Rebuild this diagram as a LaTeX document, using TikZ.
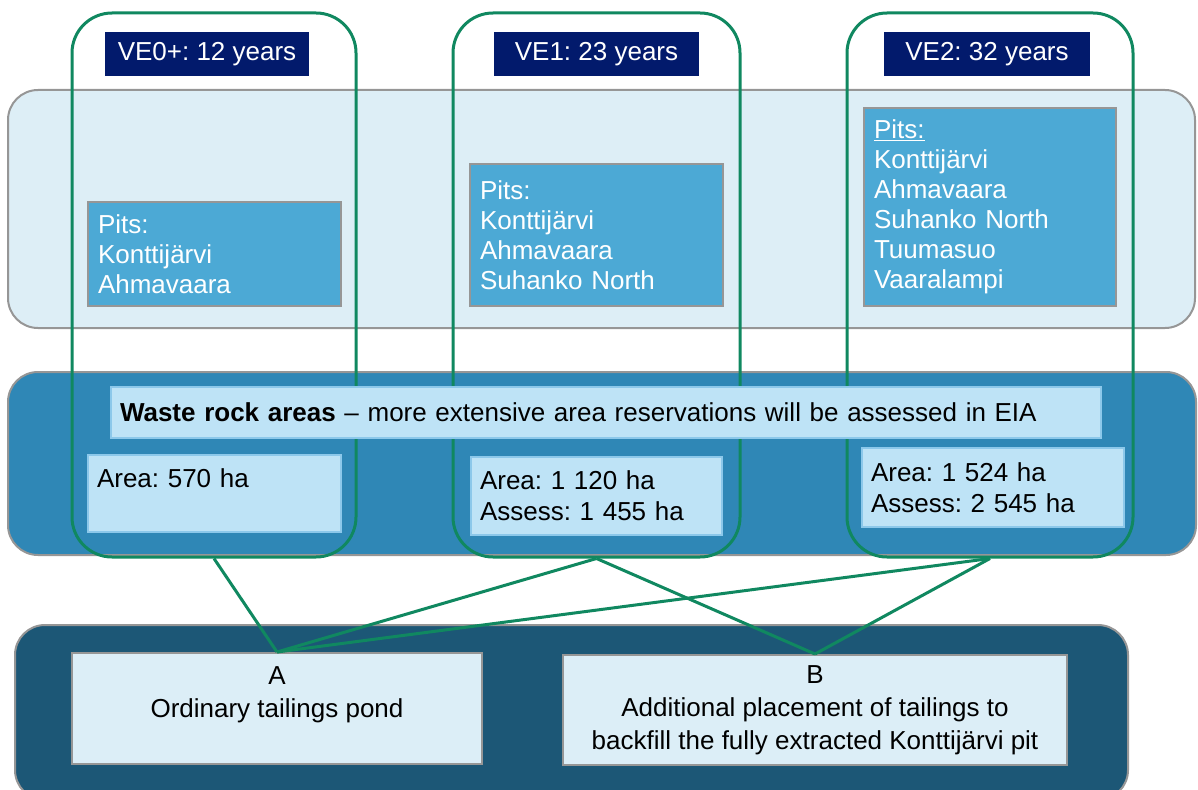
\documentclass[tikz,border=0pt]{standalone}
\usepackage{fontspec}
\setmainfont{Liberation Sans}
\usetikzlibrary{positioning}
\definecolor{framegreen}{RGB}{16, 136, 96}
\definecolor{navyblue}{RGB}{2, 26, 108}
\definecolor{pitblue}{RGB}{76, 169, 213}
\definecolor{pitbandfill}{RGB}{221, 238, 246}
\definecolor{wastebandfill}{RGB}{47, 135, 182}
\definecolor{tailbandfill}{RGB}{28, 87, 118}
\definecolor{arealight}{RGB}{190, 227, 246}
\definecolor{areaedge}{RGB}{140, 200, 234}
\definecolor{optionfill}{RGB}{220, 238, 247}
\definecolor{edgegray}{RGB}{150, 150, 150}

\begin{document}
\frenchspacing
\begin{tikzpicture}[
    x=1pt, y=-1pt,
    band/.style={rectangle, rounded corners=30pt, draw=edgegray, line width=2pt},
    frame/.style={rectangle, rounded corners=40pt, draw=framegreen, line width=3pt, minimum height=544pt},
    yearbox/.style={rectangle, fill=navyblue, text=white, minimum height=44pt, font=\fontsize{26}{30}\selectfont},
    pitbox/.style={rectangle, draw=edgegray, line width=2pt, fill=pitblue, text=white, align=left, inner xsep=10pt, font=\fontsize{26}{30}\selectfont},
    areabox/.style={rectangle, draw=areaedge, line width=1.5pt, fill=arealight, align=left, inner xsep=9pt, font=\fontsize{26}{31}\selectfont},
    optionbox/.style={rectangle, draw=edgegray, line width=2pt, fill=optionfill, align=center, font=\fontsize{26}{33}\selectfont},
    link/.style={draw=framegreen, line width=3pt}
]
\useasboundingbox (0,0) rectangle (1198,789);
\clip (0,0) rectangle (1198,789);

% Bands
\node (pitband) [band, fill=pitbandfill, minimum width=1187pt, minimum height=238pt] at (601.5,209) {};
\node (wasteband) [band, fill=wastebandfill, minimum width=1188pt, minimum height=183pt] at (602,463.5) {};
\node (tailband) [band, fill=tailbandfill, minimum width=1113pt, minimum height=175pt] at (571.5,712.5) {};

% Alternatives
\node (ve0) [frame, minimum width=284pt] at (214,285) {};
\node (ve1) [frame, minimum width=287pt] at (596.5,285) {};
\node (ve2) [frame, minimum width=286pt] at (990,285) {};

\node (ve0title) [yearbox, minimum width=204pt] at (207,54) {VE0+: 12 years};
\node (ve1title) [yearbox, minimum width=205pt] at (596.5,54) {VE1: 23 years};
\node (ve2title) [yearbox, minimum width=206pt] at (987,54) {VE2: 32 years};

% Pits
\node (ve0pits) [pitbox, text width=233pt, minimum height=104pt] at (214.5,254) {Pits:\\Konttijärvi\\Ahmavaara};
\node (ve1pits) [pitbox, text width=233pt, minimum height=142pt] at (596.5,235) {Pits:\\Konttijärvi\\Ahmavaara\\Suhanko North};
\node (ve2pits) [pitbox, text width=232pt, minimum height=198pt] at (990,207) {\underline{Pits:}\\Konttijärvi\\Ahmavaara\\Suhanko North\\Tuumasuo\\Vaaralampi};

% Waste rock areas
\node (waste) [areabox, text width=972pt, minimum height=51pt] at (606,412.5) {\textbf{Waste rock areas} -- more extensive area reservations will be assessed in EIA};
\node (ve0area) [areabox, text width=235pt, minimum height=77pt] at (214.5,493.5) {Area: 570 ha\\ \mbox{}};
\node (ve1area) [areabox, text width=233pt, minimum height=78pt] at (596.5,496) {Area: 1 120 ha\\Assess: 1 455 ha};
\node (ve2area) [areabox, text width=244pt, minimum height=79pt] at (993,487.5) {Area: 1 524 ha\\Assess: 2 545 ha};

% Tailings options
\node (optA) [optionbox, minimum width=410pt, minimum height=111pt] at (277,708.5) {A\\Ordinary tailings pond\\ \mbox{}};
\node (optB) [optionbox, minimum width=504pt, minimum height=110pt] at (815,710) {B\\Additional placement of tailings to\\backfill the fully extracted Konttijärvi pit};

% Links
\draw [link] (ve0.south) -- (optA.north);
\draw [link] (ve1.south) -- (optA.north);
\draw [link] (ve2.south) -- (optA.north);
\draw [link] (ve1.south) -- (optB.north);
\draw [link] (ve2.south) -- (optB.north);

\end{tikzpicture}
\end{document}
